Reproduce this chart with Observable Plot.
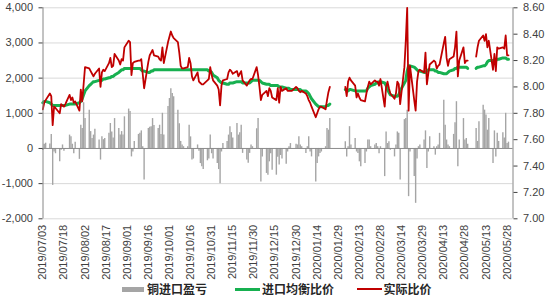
<!DOCTYPE html>
<html>
<head>
<meta charset="utf-8">
<script src="https://cdn.jsdelivr.net/npm/d3@7"></script>
<script src="https://cdn.jsdelivr.net/npm/@observablehq/plot@0.6"></script>
<style>
  html, body { margin: 0; padding: 0; background: #fff; }
  #chart { position: relative; width: 550px; height: 299px; overflow: hidden; background: #fff; }
  #legend { position: absolute; left: 0; top: 280px; width: 550px; height: 18px;
            font-family: "Noto Sans CJK SC", sans-serif; font-size: 12px; font-weight: 700; color: #262626; }
  #legend .sw { position: absolute; }
  #legend .tx { position: absolute; top: 0; line-height: 18px; white-space: nowrap; }
</style>
</head>
<body>
<div id="chart"><div id="plot"></div><div id="legend"></div></div>
<script>
// ---- data ----
const seriesNames = ["铜进口盈亏", "进口均衡比价", "实际比价"];
// trading-day segments (weekdays); the lines break between segments
const segments = [["2019-07-03", "2020-01-23"], ["2020-02-03", "2020-04-30"], ["2020-05-06", "2020-05-29"]];
const tickLabels = ["2019/07/03","2019/07/18","2019/08/02","2019/08/17","2019/09/01","2019/09/16","2019/10/01",
  "2019/10/16","2019/10/31","2019/11/15","2019/11/30","2019/12/15","2019/12/30","2020/01/14","2020/01/29",
  "2020/02/13","2020/02/28","2020/03/14","2020/03/29","2020/04/13","2020/04/28","2020/05/13","2020/05/28"];
const leftTicks = [-2000, -1000, 0, 1000, 2000, 3000, 4000];
const rightTicks = [7.0, 7.2, 7.4, 7.6, 7.8, 8.0, 8.2, 8.4, 8.6];

// 铜进口盈亏 (left axis)
const profit = [
  // Jul 2019
  -60, 120, 150, 130, 400, -1050, -100, -150, -380, -50, 100, -80, -30, 380, 330, 120, -150, 180, -310, 660, 570,
  // Aug
  1300, 850, 1090, 480, 280, 380, 550, 240, -330, 330, 250, 280, 430, 710, 470, 300, 850, 570, 380, 480, 380, 900,
  // Sep
  1120, 1050, -240, -100, 200, 400, 430, 500, 50, -900, 570, 600, 620, 850, 650, 570, 660, 400, 1000, 380, 1190,
  // Oct
  1420, 1700, 1560, 1470, 1090, 700, 200, 100, 50, 50, 660, 330, -330, -300, 100, -80, -430, -520, -600, -350, -300, 380, -150,
  // Nov
  -300, -430, -600, -1000, -100, 140, 200, 380, 620, 450, 300, 710, 380, 450, 660, -140, -330, -420, -140, 100, 50,
  // Dec
  560, 850, -30, -950, -240, -710, -760, -380, -150, -620, -760, -250, -470, -200, -300, -450, -100, 50, 140, 0, 120, 100,
  // Jan 2020
  330, 100, 50, -140, 50, 330, -100, -240, -950, -430, -240, -140, -100, 50, 570, 520, 850,
  // Feb
  190, -240, 50, 620, 100, 280, -100, -140, -380, -520, -430, -100, 240, 240, 50, 100, 140, 50, -150, 50,
  // Mar
  -800, 470, 140, 190, -50, -240, 100, 470, 430, -900, 820, 850, 1090, -1370, -100, -800, -1560, -300, 50, 100, 240, 500,
  // Apr
  -570, -100, 330, 50, -190, 50, 100, 430, 1370, 660, 240, 100, 50, 400, 730, 1330, -520, 240, 850, 240, 280, 120,
  // May
  570, 200, 760, 1230, 1090, 950, 520, 850, -430, 500, -240, 430, 200, 450, 300, 1000, 140, 180
];

// 进口均衡比价 (right axis)
const equilibrium = [
  7.88, 7.89, 7.89, 7.88, 7.87, 7.86, 7.86, 7.86, 7.86, 7.86, 7.86, 7.86, 7.86, 7.87, 7.87, 7.87, 7.87, 7.87, 7.88, 7.89, 7.91,
  7.94, 7.97, 8.01, 8.02, 8.03, 8.04, 8.04, 8.05, 8.05, 8.05, 8.06, 8.06, 8.07, 8.07, 8.08, 8.08, 8.09, 8.11, 8.12, 8.13, 8.13, 8.14,
  8.14, 8.14, 8.14, 8.14, 8.14, 8.14, 8.14, 8.13, 8.12, 8.12, 8.11, 8.11, 8.12, 8.12, 8.13, 8.13, 8.13, 8.13, 8.13, 8.13, 8.13,
  8.13, 8.13, 8.13, 8.13, 8.13, 8.13, 8.13, 8.13, 8.13, 8.13, 8.13, 8.13, 8.13, 8.13, 8.13, 8.13, 8.13, 8.13, 8.13, 8.13, 8.12, 8.12, 8.11,
  8.09, 8.07, 8.05, 8.04, 8.03, 8.03, 8.02, 8.02, 8.03, 8.03, 8.03, 8.04, 8.04, 8.04, 8.04, 8.03, 8.03, 8.03, 8.03, 8.04, 8.05,
  8.05, 8.05, 8.05, 8.04, 8.03, 8.02, 8.02, 8.02, 8.01, 8.01, 8.01, 8.01, 8.00, 8.00, 8.00, 7.99, 7.99, 7.99, 7.98, 7.98, 7.98, 7.98,
  7.98, 7.98, 7.97, 7.97, 7.96, 7.95, 7.93, 7.91, 7.87, 7.86, 7.85, 7.85, 7.85, 7.85, 7.86, 7.86, 7.87,
  7.98, 7.98, 7.97, 7.98, 7.98, 7.97, 7.97, 7.97, 7.97, 7.97, 7.97, 7.97, 7.99, 8.00, 8.01, 8.02, 8.03, 8.03, 8.04, 8.04,
  8.03, 8.01, 7.98, 7.96, 7.94, 7.93, 7.93, 7.93, 7.94, 7.97, 8.03, 8.05, 8.12, 8.16, 8.16, 8.15, 8.14, 8.13, 8.12, 8.12, 8.11, 8.11,
  8.12, 8.13, 8.13, 8.13, 8.12, 8.12, 8.11, 8.11, 8.10, 8.10, 8.10, 8.11, 8.12, 8.13, 8.14, 8.14, 8.15, 8.15, 8.15, 8.15, 8.15, 8.14,
  8.14, 8.15, 8.15, 8.16, 8.16, 8.17, 8.19, 8.20, 8.20, 8.20, 8.20, 8.21, 8.21, 8.22, 8.22, 8.22, 8.21, 8.21
];

// 实际比价 (right axis)
const actual = [
  7.83, 7.88, 7.90, 7.95, 7.93, 7.71, 7.85, 7.84, 7.80, 7.87, 7.86, 7.85, 7.87, 7.94, 7.90, 7.92, 7.88, 7.89, 7.82, 7.98, 7.89,
  8.02, 8.15, 8.14, 8.12, 8.10, 8.08, 8.10, 8.14, 8.00, 8.11, 8.13, 8.12, 8.18, 8.22, 8.15, 8.16, 8.25, 8.20, 8.17, 8.21, 8.20, 8.30,
  8.35, 8.34, 8.09, 8.18, 8.19, 8.20, 8.20, 8.21, 8.10, 7.99, 8.19, 8.24, 8.26, 8.28, 8.24, 8.23, 8.21, 8.20, 8.30, 8.18, 8.34,
  8.38, 8.42, 8.39, 8.37, 8.34, 8.26, 8.16, 8.14, 8.14, 8.15, 8.22, 8.18, 8.08, 8.05, 8.11, 8.04, 8.03, 8.02, 8.02, 8.05, 8.06, 8.15, 8.09,
  8.05, 8.01, 7.98, 7.86, 8.01, 8.05, 8.06, 8.11, 8.13, 8.12, 8.10, 8.12, 8.08, 8.10, 8.12, 8.05, 8.01, 8.03, 8.05, 8.06, 8.06,
  8.15, 8.09, 8.00, 7.90, 7.94, 7.97, 7.93, 7.99, 7.97, 7.92, 7.90, 7.99, 7.88, 8.00, 7.97, 7.99, 7.97, 7.97, 7.97, 7.97, 8.00, 7.99,
  7.97, 7.96, 7.97, 7.95, 7.93, 7.90, 7.88, 7.85, 7.77, 7.80, 7.83, 7.85, 7.85, 7.83, 7.90, 7.96, 8.00,
  8.00, 7.93, 8.04, 8.07, 8.05, 8.01, 7.92, 7.95, 7.92, 7.90, 7.89, 7.95, 8.00, 8.04, 8.02, 8.05, 8.04, 8.04, 8.01, 8.06,
  7.85, 8.00, 8.04, 7.99, 7.95, 7.91, 7.95, 8.04, 8.02, 7.87, 8.15, 8.35, 8.60, 7.82, 8.16, 7.90, 7.82, 8.04, 8.12, 8.13, 8.11, 8.26,
  8.02, 8.10, 8.17, 8.20, 8.19, 8.14, 8.16, 8.17, 8.33, 8.38, 8.22, 8.16, 8.21, 8.23, 8.30, 8.42, 8.08, 8.20, 8.30, 8.18, 8.20, 8.20,
  8.23, 8.30, 8.35, 8.39, 8.35, 8.40, 8.30, 8.35, 8.13, 8.25, 8.12, 8.30, 8.29, 8.30, 8.29, 8.39, 8.24, 8.24
];

// ---- build rows ----
const parseISO = d3.utcParse("%Y-%m-%d");
const parseTick = d3.utcParse("%Y/%m/%d");
const dates = [], segOf = [];
segments.forEach(([a, b], i) => {
  for (const d of d3.utcDay.range(parseISO(a), d3.utcDay.offset(parseISO(b), 1))) {
    const w = d.getUTCDay();
    if (w > 0 && w < 6) { dates.push(d); segOf.push(i); }
  }
});
if (dates.length !== profit.length || dates.length !== actual.length || dates.length !== equilibrium.length)
  console.warn("length mismatch", dates.length, profit.length, equilibrium.length, actual.length);

// right axis (ratio) mapped onto the left axis units
const toLeft = d3.scaleLinear([7.0, 8.6], [-2000, 4000]);
const rows = dates.map((d, i) => ({
  date: d, seg: segOf[i], profit: profit[i],
  eq: toLeft(equilibrium[i]), act: toLeft(actual[i])
}));

const x0 = new Date(Date.UTC(2019, 6, 3, 3));
const x1 = new Date(Date.UTC(2020, 5, 1, 5));
const fmtLeft = d => d3.format(",")(d).replace("\u2212", "-");

const plot = Plot.plot({
  width: 550,
  height: 281,
  marginLeft: 42.5,
  marginRight: 37.5,
  marginTop: 7.3,
  marginBottom: 281 - 218.3,
  x: { type: "utc", domain: [x0, x1] },
  y: { domain: [-2000, 4000], label: null },
  style: { fontFamily: "'Liberation Sans', Arial, sans-serif", fontSize: "11px", color: "#404040", background: "#fff" },
  marks: [
    Plot.gridY(leftTicks.filter(v => v !== 0), { stroke: "#D9D9D9", strokeOpacity: 1 }),
    Plot.ruleX(rows, { x: "date", y1: 0, y2: "profit", stroke: "#A5A5A5", strokeWidth: 1.4 }),
    Plot.ruleY([0], { stroke: "#8C8C8C" }),
    Plot.lineY(rows, { x: "date", y: "eq", z: "seg", stroke: "#17B050", strokeWidth: 3 }),
    Plot.lineY(rows, { x: "date", y: "act", z: "seg", stroke: "#C00000", strokeWidth: 1.8 }),
    Plot.ruleX([x0], { stroke: "#868686" }),
    Plot.ruleX([x1], { stroke: "#868686" }),
    Plot.axisY(leftTicks, { anchor: "left", tickFormat: fmtLeft, tickSize: 4, tickPadding: 6, label: null }),
    Plot.axisY(rightTicks.map(v => toLeft(v)), { anchor: "right", tickFormat: v => toLeft.invert(v).toFixed(2), tickSize: 4, tickPadding: 6, label: null }),
    Plot.axisX(tickLabels.map(parseTick), { anchor: "bottom", tickRotate: -90, tickSize: 0, tickPadding: 6,
      tickFormat: d3.utcFormat("%Y/%m/%d"), label: null })
  ]
});
document.getElementById("plot").appendChild(plot);

// ---- legend (below the SVG) ----
const legend = document.getElementById("legend");
const legendItems = [
  { name: seriesNames[0], color: "#A5A5A5", sw: { left: 122, top: 6.5, width: 22, height: 5 }, tx: 147 },
  { name: seriesNames[1], color: "#17B050", sw: { left: 235, top: 7.5, width: 25, height: 3 }, tx: 262 },
  { name: seriesNames[2], color: "#C00000", sw: { left: 357, top: 8, width: 25, height: 2 }, tx: 383.5 }
];
for (const it of legendItems) {
  const s = document.createElement("span");
  s.className = "sw";
  Object.assign(s.style, { left: it.sw.left + "px", top: it.sw.top + "px", width: it.sw.width + "px",
    height: it.sw.height + "px", background: it.color });
  legend.appendChild(s);
  const t = document.createElement("span");
  t.className = "tx";
  t.style.left = it.tx + "px";
  t.textContent = it.name;
  legend.appendChild(t);
}
</script>
</body>
</html>
